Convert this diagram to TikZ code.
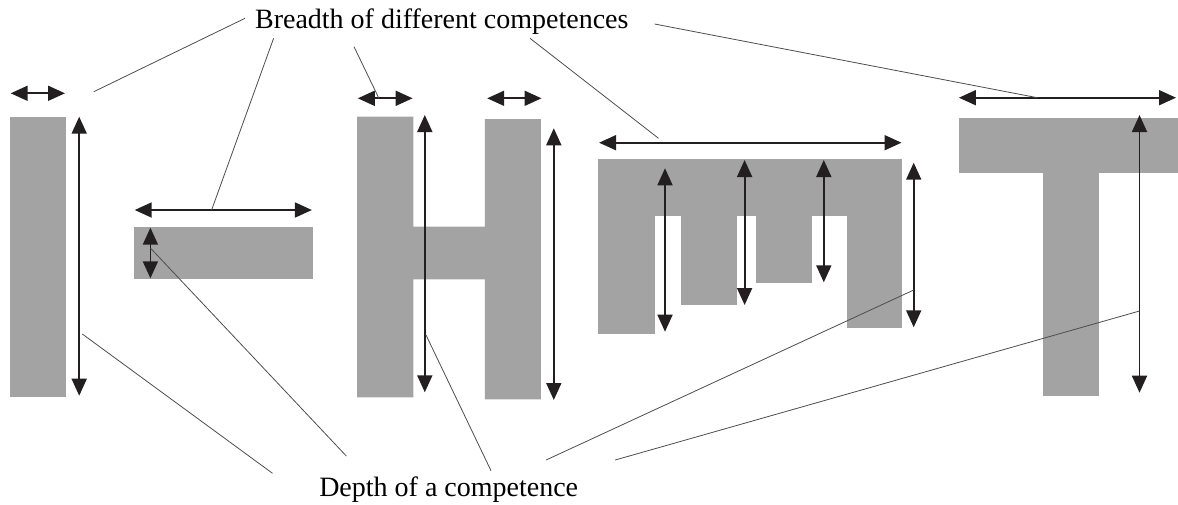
\documentclass[tikz,border=0pt]{standalone}
\usepackage{fontspec}
\setmainfont{Liberation Serif}
\newfontfamily\timesfont{Liberation Serif}
\usetikzlibrary{arrows.meta}
\definecolor{black}{cmyk}{0,0,0.0,1.0}
\definecolor{grey}{RGB}{163,163,163}
\begin{document}
\begin{tikzpicture}[x=1pt,y=-1pt]
    \tikzset{%
      bar/.style={fill=grey, draw=none},
      dbl/.style={{Triangle[length=17pt,width=15pt]}-{Triangle[length=17pt,width=15pt]},
        line width=1.8pt, black},
      lead/.style={line width=0.8pt, black!80},
      lbl/.style={anchor=base, inner sep=0pt, font=\timesfont\fontsize{28}{30}\selectfont},
    }
    \useasboundingbox (0,0) rectangle (1178,504);
    % labels
    \node[lbl] (Br) at (441.8,28.3) {Breadth of different competences};
    \node[lbl] (De) at (448.7,496.7) {Depth of a competence};

    % I
    \fill[bar] (9.6,116.7) rectangle (65.8,396.7);
    \coordinate (A1) at (10.7,93.3);
    \coordinate (A2) at (65,93.3);
    \coordinate (A3) at (79.2,116.7);
    \coordinate (A4) at (79.2,395.7);
    \draw [dbl] (A1) -- (A2);
    \draw [dbl] (A3) -- (A4);

    % dash
    \fill[bar] (134,226.7) rectangle (312.7,279.3);
    \coordinate (B1) at (134.7,210);
    \coordinate (B2) at (311.9,210);
    \coordinate (B3) at (150.4,227.7);
    \coordinate (B4) at (150.4,278.3);
    \draw [dbl] (B1) -- (B2);
    \draw [dbl] (B3) -- (B4);

    % H
    \fill[bar] (357,116.7) -- (413.3,116.7) -- (413.3,226.7) -- (484.9,226.7)
      -- (484.9,119) -- (540.8,119) -- (540.8,399.3) -- (484.9,399.3)
      -- (484.9,279.3) -- (413.3,279.3) -- (413.3,397.3) -- (357,397.3) -- cycle;
    \coordinate (C1) at (357.8,98.3);
    \coordinate (C2) at (412.6,98.3);
    \coordinate (C3) at (487.2,98.3);
    \coordinate (C4) at (541.5,98.3);
    \coordinate (C5) at (424.8,115);
    \coordinate (C6) at (424.8,392.3);
    \coordinate (C7) at (553.8,128.3);
    \coordinate (C8) at (553.8,400);
    \draw [dbl] (C1) -- (C2);
    \draw [dbl] (C3) -- (C4);
    \draw [dbl] (C5) -- (C6);
    \draw [dbl] (C7) -- (C8);

    % M
    \fill[bar] (598.4,159.3) rectangle (902.2,216);
    \fill[bar] (598.4,216) rectangle (654.6,334.3);
    \fill[bar] (681.4,216) rectangle (736.9,305);
    \fill[bar] (756,216) rectangle (812.3,282.7);
    \fill[bar] (846.7,216) rectangle (902.2,327.7);
    \coordinate (D1) at (599.1,142.7);
    \coordinate (D2) at (901.5,142.7);
    \draw [dbl] (D1) -- (D2);
    \coordinate (D3) at (665,168.3);
    \coordinate (D4) at (665,331.7);
    \draw [dbl] (D3) -- (D4);
    \coordinate (D5) at (744.6,160);
    \coordinate (D6) at (744.6,305);
    \draw [dbl] (D5) -- (D6);
    \coordinate (D7) at (823.8,160);
    \coordinate (D8) at (823.8,282.3);
    \draw [dbl] (D7) -- (D8);
    \coordinate (D9) at (913.7,162.7);
    \coordinate (D10) at (913.7,327.3);
    \draw [dbl] (D9) -- (D10);

    % T
    \fill[bar] (958.9,118.3) rectangle (1178,173.3);
    \fill[bar] (1043,173.3) rectangle (1099.3,396);
    \coordinate (E1) at (958.9,97.7);
    \coordinate (E2) at (1176,97.7);
    \coordinate (E3) at (1139.5,115);
    \coordinate (E4) at (1139.5,392.7);
    \draw [dbl] (E1) -- (E2);
    \draw [dbl] (E3) -- (E4);

    % leaders, top
    \coordinate (T1) at (245,18.3);
    \coordinate (T2) at (273.6,38.3);
    \coordinate (T3) at (354,46.7);
    \coordinate (T4) at (530,38.3);
    \coordinate (T5) at (654.6,24);
    \draw [lead] (T1) -- (93.8,91.7);
    \draw [lead] (T2) -- (211.6,210);
    \draw [lead] (T3) -- (378.9,98.3);
    \draw [lead] (T4) -- (658.5,138.3);
    \draw [lead] (T5) -- (1037.3,97.7);
    % leaders, bottom
    \coordinate (L1) at (272.5,473.3);
    \coordinate (L2) at (346.3,456);
    \coordinate (L3) at (491,470.7);
    \coordinate (L4) at (546.1,460);
    \coordinate (L5) at (615.2,460);
    \draw [lead] (82.3,334) -- (L1);
    \draw [lead] (150.4,248) -- (L2);
    \draw [lead] (426,335) -- (L3);
    \draw [lead] (913.7,290) -- (L4);
    \draw [lead] (1139.5,311) -- (L5);
\end{tikzpicture}
\end{document}
